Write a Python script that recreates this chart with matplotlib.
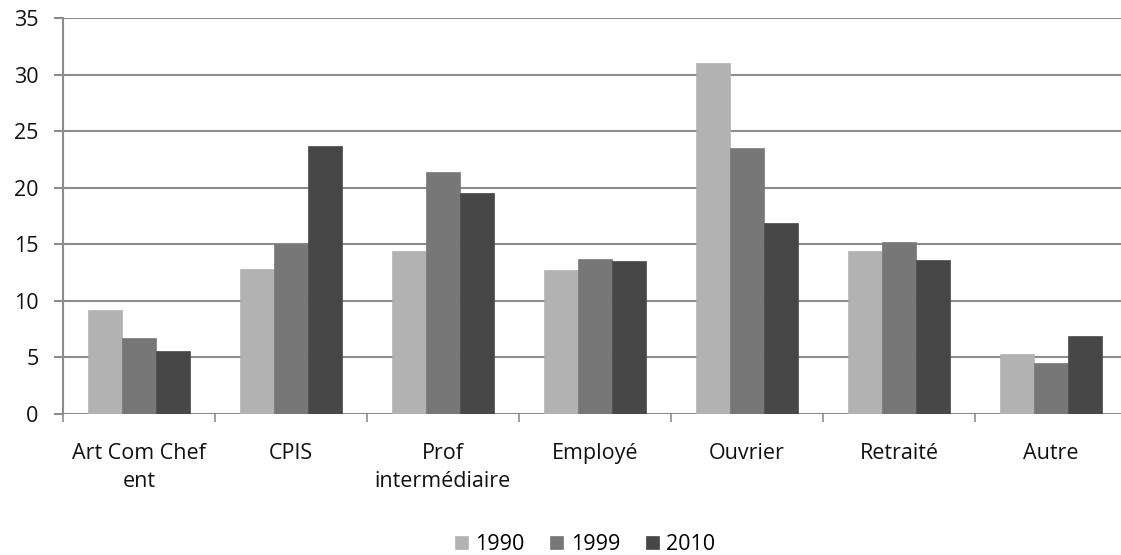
import matplotlib.pyplot as plt
import numpy as np

categories = ["Art Com Chef\nent", "CPIS", "Prof\nintermédiaire", "Employé",
              "Ouvrier", "Retraité", "Autre"]
years = ["1990", "1999", "2010"]
v1990 = [9.2, 12.8, 14.4, 12.7, 31.0, 14.4, 5.3]
v1999 = [6.7, 15.0, 21.4, 13.7, 23.5, 15.2, 4.5]
v2010 = [5.6, 23.7, 19.5, 13.5, 16.9, 13.6, 6.9]
colors = ["#b2b2b2", "#777777", "#474747"]

plt.rcParams['font.family'] = ['Open Sans', 'DejaVu Sans']
fs = 15.5

fig = plt.figure(figsize=(11.21, 5.55), dpi=100)
ax = fig.add_axes([63 / 1121, 1 - 414 / 555, 1064 / 1121, 396 / 555])

x = np.arange(len(categories))
w = 0.222
for i, (vals, c, lab) in enumerate(zip([v1990, v1999, v2010], colors, years)):
    ax.bar(x + (i - 1) * w, vals, w, color=c, label=lab, zorder=3,
           edgecolor=c, linewidth=0.5)

ax.set_xlim(-0.5, len(categories) - 0.5)
ax.set_ylim(0, 35)
ax.set_yticks(range(0, 36, 5))
ax.yaxis.grid(True, color="#8c8c8c", linewidth=1.5, zorder=0)
ax.set_axisbelow(True)

for s in ["top", "right", "bottom"]:
    ax.spines[s].set_visible(False)
ax.spines["left"].set_color("#8c8c8c")
ax.spines["left"].set_linewidth(1.5)

ax.set_xticks(x)
ax.set_xticklabels(categories, fontsize=fs, color="#111111", linespacing=1.4)
ax.set_xticks(np.arange(-0.5, len(categories), 1), minor=True)
ax.tick_params(axis="x", which="major", length=0, pad=21)
ax.tick_params(axis="x", which="minor", length=6, width=1.2, color="#8c8c8c")
ax.tick_params(axis="y", length=6.5, width=1.5, color="#8c8c8c", pad=11,
               labelsize=fs, labelcolor="#111111")

leg = fig.legend(loc="lower center", bbox_to_anchor=(0.522, -0.035), ncol=3,
                 frameon=False, fontsize=fs, handlelength=0.6, handleheight=0.6,
                 handletextpad=0.35, columnspacing=1.2)

fig.savefig("out.png", dpi=100)
